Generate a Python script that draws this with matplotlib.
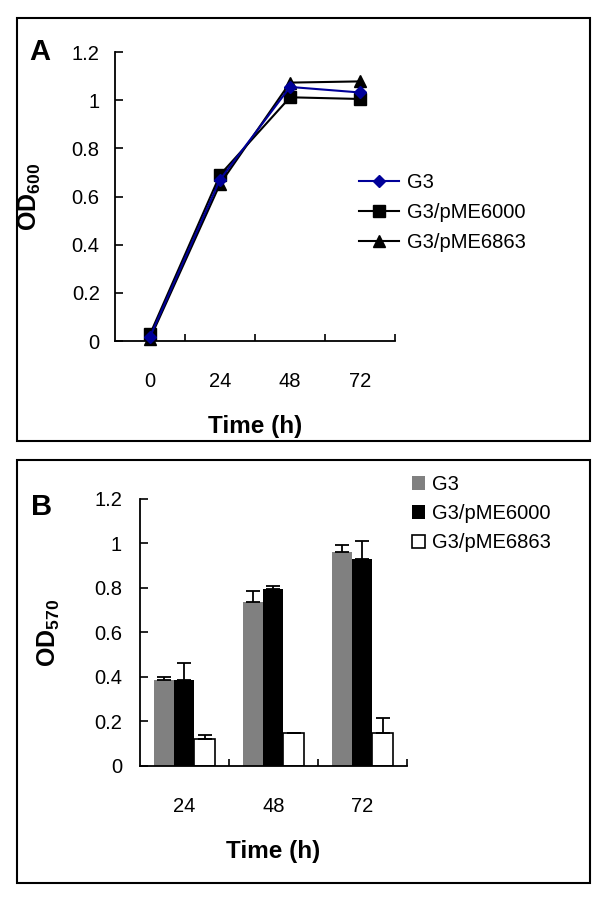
import numpy as np
import matplotlib
matplotlib.use("Agg")
import matplotlib.pyplot as plt
from matplotlib.patches import Rectangle

plt.rcParams['font.family'] = ['Liberation Sans', 'DejaVu Sans']
plt.rcParams['mathtext.fontset'] = 'custom'
plt.rcParams['mathtext.rm'] = 'Liberation Sans'
plt.rcParams['mathtext.bf'] = 'Liberation Sans:bold'

# Panel A: growth curve (OD600)
times_a = ["0", "24", "48", "72"]
growth_g3 = [0.018, 0.67, 1.055, 1.032]
growth_pme6000 = [0.028, 0.69, 1.012, 1.005]
growth_pme6863 = [0.010, 0.652, 1.073, 1.078]

# Panel B: biofilm (OD570), one-sided error bars
times_b = ["24", "48", "72"]
biofilm_g3 = [0.387, 0.736, 0.960]
biofilm_g3_err = [0.015, 0.050, 0.035]
biofilm_pme6000 = [0.387, 0.797, 0.930]
biofilm_pme6000_err = [0.075, 0.013, 0.080]
biofilm_pme6863 = [0.120, 0.150, 0.148]
biofilm_pme6863_err = [0.020, 0.0, 0.068]

series_names = ["G3", "G3/pME6000", "G3/pME6863"]
yticks = [0, 0.2, 0.4, 0.6, 0.8, 1, 1.2]

fig = plt.figure(figsize=(6, 9), dpi=100)

# outer frames around each panel
for y0 in (0.510, 0.019):
    fig.patches.append(Rectangle((0.028, y0), 0.955, 0.470, transform=fig.transFigure,
                                 fill=False, edgecolor='black', linewidth=1.5))


def style_axes(ax, ncat):
    for s in ('top', 'right'):
        ax.spines[s].set_visible(False)
    for s in ('left', 'bottom'):
        ax.spines[s].set_linewidth(1.3)
    ax.set_xlim(-0.5, ncat - 0.5)
    ax.set_ylim(0, 1.2)
    ax.set_yticks(yticks)
    ax.set_yticklabels(["0", "0.2", "0.4", "0.6", "0.8", "1", "1.2"])
    ax.tick_params(axis='y', direction='in', length=6, width=1.2, pad=11, labelsize=14.5)
    ax.set_xticks(np.arange(ncat))
    ax.set_xticks(np.arange(ncat) + 0.5, minor=True)
    ax.tick_params(axis='x', which='major', length=0, pad=22, labelsize=14.5)
    ax.tick_params(axis='x', which='minor', direction='in', length=5, width=1.2)


# ---- Panel A ----
axA = fig.add_axes([0.1917, 0.6211, 0.4667, 0.3211])
xa = np.arange(len(times_a))
axA.plot(xa, growth_g3, color='#000099', marker='D', markersize=6.5, linewidth=1.5,
         label=series_names[0], clip_on=False, zorder=3)
axA.plot(xa, growth_pme6000, color='black', marker='s', markersize=8, linewidth=1.5,
         label=series_names[1], clip_on=False, zorder=2)
axA.plot(xa, growth_pme6863, color='black', marker='^', markersize=8.5, linewidth=1.5,
         label=series_names[2], clip_on=False, zorder=2)
style_axes(axA, len(times_a))
axA.set_xticklabels(times_a)
axA.set_xlabel("Time (h)", fontsize=17.5, fontweight='bold')
axA.xaxis.set_label_coords(0.5, -0.256)
axA.set_ylabel(r"$\mathbf{OD_{600}}$", fontsize=18)
axA.yaxis.set_label_coords(-0.257, 0.5)
axA.legend(loc='upper left', bbox_to_anchor=(0.598, 0.808), bbox_transform=fig.transFigure,
           frameon=False, fontsize=14.5, handlelength=2.0, handletextpad=0.4,
           borderpad=0, borderaxespad=0, labelspacing=0.55)
fig.text(0.048, 0.958, "A", fontsize=21, fontweight='bold', va='top', ha='left')

# ---- Panel B ----
axB = fig.add_axes([0.2333, 0.1489, 0.445, 0.2967])
xb = np.arange(len(times_b))
w = 0.225
zeros = [0, 0, 0]
err_kw = dict(ecolor='black', elinewidth=1.3, capsize=5, capthick=1.3)
axB.bar(xb - w, biofilm_g3, w, color='#808080', label=series_names[0],
        yerr=[zeros, biofilm_g3_err], error_kw=err_kw)
axB.bar(xb, biofilm_pme6000, w, color='black', label=series_names[1],
        yerr=[zeros, biofilm_pme6000_err], error_kw=err_kw)
axB.bar(xb + w, biofilm_pme6863, w, color='white', edgecolor='black', linewidth=1.2,
        label=series_names[2], yerr=[zeros, biofilm_pme6863_err], error_kw=err_kw)
style_axes(axB, len(times_b))
axB.tick_params(axis='y', pad=13)
axB.set_xticklabels(times_b)
axB.set_xlabel("Time (h)", fontsize=17.5, fontweight='bold')
axB.xaxis.set_label_coords(0.498, -0.277)
axB.set_ylabel(r"$\mathbf{OD_{570}}$", fontsize=18)
axB.yaxis.set_label_coords(-0.292, 0.5)
axB.legend(loc='upper left', bbox_to_anchor=(0.686, 0.472), bbox_transform=fig.transFigure,
           frameon=False, fontsize=14.5, handlelength=0.65, handleheight=0.65,
           handletextpad=0.35, borderpad=0, borderaxespad=0, labelspacing=0.5)
fig.text(0.052, 0.452, "B", fontsize=21, fontweight='bold', va='top', ha='left')

fig.savefig("out.png", dpi=100)
